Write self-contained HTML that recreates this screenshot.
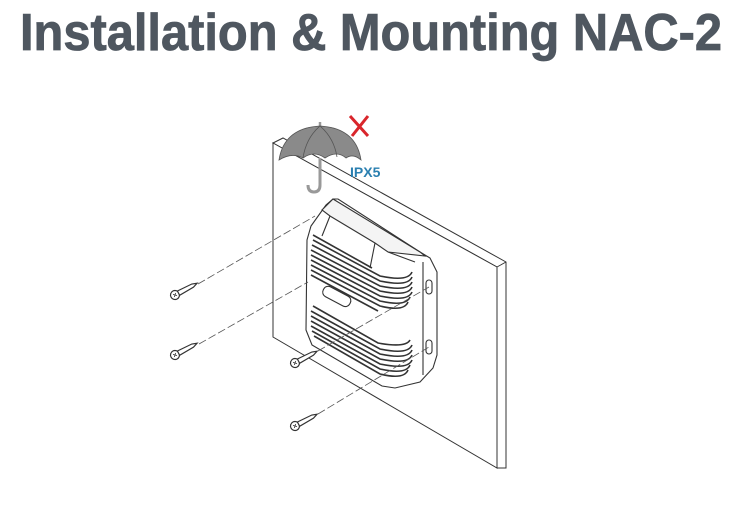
<!DOCTYPE html>
<html><head><meta charset="utf-8"><style>
html,body{margin:0;padding:0;background:#fff;width:745px;height:530px;overflow:hidden}
</style></head><body>
<svg width="745" height="530" viewBox="0 0 745 530" xmlns="http://www.w3.org/2000/svg">
<text x="20" y="50" font-family="Liberation Sans, sans-serif" font-weight="bold" font-size="52" fill="#4f5760" stroke="#4f5760" stroke-width="0.8" textLength="702" lengthAdjust="spacingAndGlyphs">Installation &amp; Mounting NAC-2</text>

<!-- board -->
<g fill="#fff" stroke="#333" stroke-width="1">
<polygon points="273,143 283,138 506,262 506,468 497,468 497,267"/>
<polygon points="273,143 497,267 497,468 273,337"/>
<line x1="497" y1="267" x2="506" y2="262"/>
</g>

<!-- umbrella -->
<g>
<line x1="320" y1="122" x2="320" y2="128" stroke="#999" stroke-width="2.5"/>
<path d="M279,160 Q284,128 320,126 Q356,128 361,160 Q353,153 346,158 Q337,150 325,158 Q314,150 303,158 Q292,152 279,160 Z" fill="#8a8a8a" stroke="#555" stroke-width="0.8"/>
<path d="M303,158 Q306,138 320,126 M337,157 Q334,138 320,126" fill="none" stroke="#555" stroke-width="0.8"/>
<path d="M320,158 L320,185 Q320,192 314,192 Q308,192 308,185" fill="none" stroke="#999" stroke-width="3"/>
<path d="M350,116 L368,136 M368,116 L352,136" stroke="#d9262c" stroke-width="3" fill="none"/>
<text x="350" y="177" font-family="Liberation Sans, sans-serif" font-weight="bold" font-size="14" fill="#2a7fb0">IPX5</text>
</g>

<!-- device -->
<g stroke="#333" stroke-width="1.1" fill="#fff">
<path d="M333,199 L326,205 L311,226 L307,240 L306,330 L312,345 L382,386 L395,388 L420,382 L433,368 L437,355 L437,272 L430,258 L420,252 L338,199 Z"/>
<path d="M333,199 L420,252 L425,256 L388,252 L375,243 L330,216 L322,210 Z" fill="#f4f4f4"/>
<line x1="330" y1="216" x2="322" y2="236"/>
<line x1="375" y1="243" x2="370" y2="268"/>
<line x1="388" y1="252" x2="415" y2="262"/>
<path d="M423,262 L423,375" fill="none"/>
<rect x="426" y="280" width="6" height="14" rx="3"/>
<rect x="426" y="340" width="6" height="14" rx="3"/>
<rect x="322" y="291" width="30" height="11" rx="5" transform="rotate(28 337 296)"/>
</g>
<g stroke="#333" stroke-width="1.6" fill="none">
<path d="M313,240 L380,276 Q408,282 412,272"/>
<path d="M312,245 L380,281 Q408,287 412,277"/>
<path d="M311,250 L380,286 Q408,292 412,282"/>
<path d="M311,255 L380,291 Q408,297 412,287"/>
<path d="M311,260 L380,296 Q408,302 412,292"/>
<path d="M311,265 L380,301 Q406,307 410,297"/>
<path d="M311,270 L380,306 Q404,312 408,302"/>
<path d="M311,275 L378,311"/>
<path d="M313,235 L372,268"/>
<path d="M313,306 L378,343 Q406,348 410,340"/>
<path d="M311,311 L380,349 Q408,355 412,345"/>
<path d="M311,316 L380,354 Q408,360 412,350"/>
<path d="M311,321 L380,359 Q408,365 412,355"/>
<path d="M311,326 L380,364 Q408,370 412,360"/>
<path d="M312,331 L380,369 Q406,375 410,365"/>
<path d="M314,336 L380,374 Q404,380 408,370"/>
</g>

<!-- dashed lines -->
<g stroke="#555" stroke-width="0.8" stroke-dasharray="8,3" fill="none">
<line x1="198" y1="284" x2="315" y2="216"/>
<line x1="199" y1="344" x2="308" y2="282"/>
<line x1="318" y1="351" x2="429" y2="287"/>
<line x1="318" y1="414" x2="429" y2="347"/>
</g>

<!-- screws -->
<defs>
<g id="screw">
<circle cx="0" cy="0" r="4.5" fill="#fff" stroke="#333" stroke-width="1.2"/>
<path d="M-1.5,-1.5 L1.5,1.5 M1.5,-1.5 L-1.5,1.5" stroke="#333" stroke-width="0.8"/>
<path d="M4,-2.4 L20,-1.8 L25,0 L20,1.8 L4,2.4 Z" fill="#fff" stroke="#333" stroke-width="1.2"/>
</g>
</defs>
<use href="#screw" transform="translate(175,295) rotate(-28)"/>
<use href="#screw" transform="translate(175,355) rotate(-28)"/>
<use href="#screw" transform="translate(295,363) rotate(-28)"/>
<use href="#screw" transform="translate(295,426) rotate(-28)"/>
</svg>
</body></html>
